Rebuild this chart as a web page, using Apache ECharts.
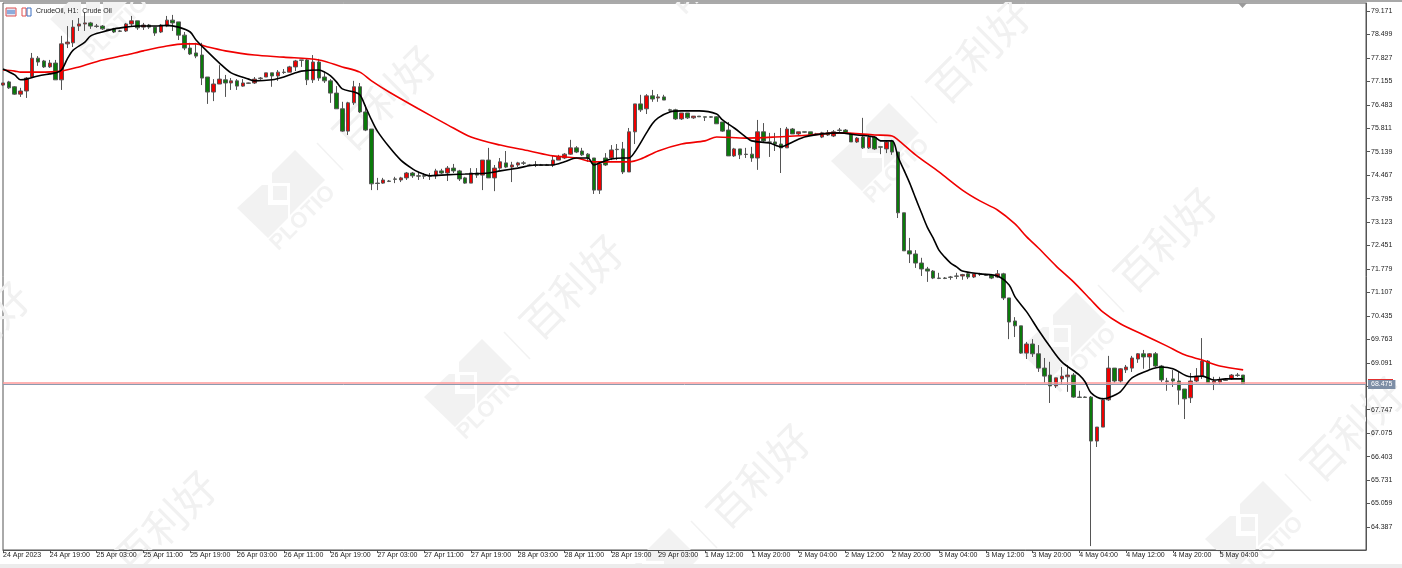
<!DOCTYPE html>
<html><head><meta charset="utf-8">
<style>html,body{margin:0;padding:0;background:#fff}#c{width:1402px;height:568px}</style>
<script src="https://cdn.jsdelivr.net/npm/echarts@6/dist/echarts.min.js"></script>
</head><body><div id="c"></div>
<script>
const tickLabels=["24 Apr 2023","24 Apr 19:00","25 Apr 03:00","25 Apr 11:00","25 Apr 19:00","26 Apr 03:00","26 Apr 11:00","26 Apr 19:00","27 Apr 03:00","27 Apr 11:00","27 Apr 19:00","28 Apr 03:00","28 Apr 11:00","28 Apr 19:00","29 Apr 03:00","1 May 12:00","1 May 20:00","2 May 04:00","2 May 12:00","2 May 20:00","3 May 04:00","3 May 12:00","3 May 20:00","4 May 04:00","4 May 12:00","4 May 20:00","5 May 04:00"];
const priceTicks=[79.171,78.499,77.827,77.155,76.483,75.811,75.139,74.467,73.795,73.123,72.451,71.779,71.107,70.435,69.763,69.091,68.419,67.747,67.075,66.403,65.731,65.059,64.387];
// [open, close, low, high]
const candles=[[77.05,77.11,77.02,77.11],[77.14,76.97,76.94,77.17],[77.00,76.79,76.77,77.02],[76.79,76.88,76.71,76.97],[76.88,77.25,76.68,77.28],[77.28,77.82,77.25,77.97],[77.82,77.71,77.60,77.88],[77.74,77.57,77.54,77.77],[77.57,77.68,77.54,77.77],[77.68,77.20,77.20,77.77],
[77.20,78.23,76.91,78.46],[78.23,78.28,78.11,78.74],[78.26,78.71,78.14,78.91],[78.74,78.80,78.60,78.97],[78.80,78.83,78.60,79.14],[78.83,78.74,78.66,78.86],[78.74,78.73,78.69,78.80],[78.74,78.66,78.63,78.77],[78.65,78.64,78.63,78.66],[78.66,78.57,78.54,78.69],
[78.60,78.59,78.57,78.63],[78.60,78.80,78.57,78.83],[78.80,78.89,78.74,79.03],[78.89,78.69,78.63,78.89],[78.71,78.77,78.63,78.83],[78.77,78.71,78.66,78.80],[78.71,78.54,78.46,78.71],[78.57,78.77,78.54,78.80],[78.74,78.91,78.71,79.03],[78.91,78.83,78.60,79.06],
[78.86,78.48,78.34,78.86],[78.48,78.11,78.05,78.57],[78.11,77.94,77.91,78.26],[77.97,77.88,77.82,78.26],[77.91,77.25,77.05,78.26],[77.28,76.85,76.51,77.28],[76.85,77.08,76.59,77.22],[77.08,77.22,77.08,77.62],[77.20,77.11,76.71,77.34],[77.11,77.17,76.91,77.25],
[77.17,77.02,76.91,77.22],[77.02,77.11,77.00,77.22],[77.11,77.10,77.08,77.12],[77.11,77.22,77.08,77.28],[77.25,77.24,77.20,77.28],[77.28,77.40,77.28,77.40],[77.40,77.31,77.00,77.40],[77.31,77.42,77.17,77.48],[77.42,77.41,77.37,77.51],[77.42,77.57,77.42,77.60],
[77.57,77.74,77.45,77.77],[77.77,77.76,77.57,77.77],[77.77,77.20,77.05,77.80],[77.20,77.71,77.11,77.91],[77.71,77.25,77.17,77.80],[77.28,77.17,77.11,77.42],[77.17,76.82,76.54,77.22],[76.82,76.37,76.37,77.02],[76.37,75.73,75.71,76.57],[75.73,76.54,75.62,76.57],
[76.54,77.00,76.48,77.17],[77.00,76.28,76.25,77.11],[76.28,75.76,75.73,76.48],[75.79,74.22,74.04,75.79],[74.24,74.23,74.04,74.39],[74.24,74.33,74.22,74.39],[74.30,74.29,74.27,74.33],[74.36,74.35,74.24,74.42],[74.33,74.39,74.27,74.42],[74.39,74.53,74.33,74.56],
[74.53,74.45,74.39,74.56],[74.45,74.44,74.33,74.56],[74.45,74.44,74.36,74.53],[74.45,74.44,74.33,74.53],[74.45,74.59,74.36,74.65],[74.59,74.53,74.50,74.65],[74.53,74.67,74.30,74.73],[74.67,74.59,74.53,74.79],[74.59,74.36,74.30,74.62],[74.39,74.24,74.22,74.42],
[74.24,74.53,74.24,74.67],[74.53,74.47,74.39,74.67],[74.47,74.90,74.04,74.90],[74.90,74.39,74.39,75.25],[74.39,74.67,74.01,74.76],[74.67,74.85,74.62,74.96],[74.82,74.70,74.67,75.16],[74.70,74.76,74.27,74.85],[74.76,74.82,74.70,74.85],[74.82,74.81,74.76,74.87],
[74.76,74.75,74.73,74.79],[74.76,74.75,74.70,74.87],[74.76,74.75,74.73,74.79],[74.76,74.75,74.73,74.79],[74.76,74.90,74.70,75.02],[74.90,74.99,74.90,75.05],[74.96,75.07,74.93,75.10],[75.07,75.25,75.05,75.48],[75.25,75.13,75.10,75.30],[75.16,75.05,75.02,75.25],
[75.07,74.96,74.85,75.10],[74.96,74.04,73.93,74.96],[74.04,74.79,73.93,74.82],[74.96,74.76,74.73,75.10],[74.96,75.19,74.90,75.33],[75.21,75.20,74.90,75.36],[75.22,74.56,74.50,75.42],[74.56,75.71,74.56,75.82],[75.71,76.51,75.36,76.51],[76.51,76.34,76.28,76.77],
[76.37,76.74,76.22,76.79],[76.74,76.65,76.57,76.91],[76.68,76.71,76.57,76.79],[76.71,76.62,76.62,76.77],[76.34,76.33,76.28,76.37],[76.34,76.08,76.05,76.37],[76.08,76.25,76.05,76.25],[76.25,76.11,76.08,76.25],[76.11,76.16,76.08,76.16],[76.16,76.14,76.14,76.16],
[76.14,76.13,76.02,76.14],[76.14,76.13,76.11,76.16],[76.14,75.94,75.94,76.16],[75.99,75.73,75.71,75.99],[75.76,75.02,75.02,75.99],[75.02,75.22,74.99,75.25],[75.22,75.05,74.93,75.22],[75.07,75.06,74.96,75.25],[75.07,74.96,74.85,75.28],[74.96,75.71,74.62,76.05],
[75.71,75.45,75.42,75.96],[75.42,75.41,74.99,75.68],[75.42,75.36,75.16,75.68],[75.36,75.25,74.53,75.82],[75.25,75.79,75.25,75.85],[75.79,75.65,75.65,75.82],[75.65,75.71,75.62,75.71],[75.71,75.70,75.68,75.71],[75.71,75.62,75.62,75.71],[75.65,75.64,75.62,75.68],
[75.56,75.68,75.53,75.71],[75.68,75.62,75.59,75.76],[75.59,75.71,75.56,75.76],[75.76,75.75,75.71,75.82],[75.76,75.68,75.65,75.79],[75.65,75.42,75.42,75.68],[75.42,75.53,75.39,75.56],[75.56,75.25,75.22,76.11],[75.25,75.56,75.22,75.62],[75.56,75.22,75.19,75.59],
[75.28,75.27,75.07,75.28],[75.22,75.42,75.10,75.45],[75.45,75.13,75.05,75.48],[75.13,73.39,73.24,75.13],[73.39,72.30,72.30,73.39],[72.30,72.21,71.95,72.67],[72.21,71.95,71.81,72.32],[71.95,71.78,71.58,72.10],[71.78,71.72,71.41,71.84],[71.72,71.52,71.49,71.75],
[71.52,71.51,71.49,71.67],[71.52,71.51,71.49,71.55],[71.55,71.54,71.47,71.58],[71.58,71.57,71.49,71.67],[71.58,71.62,71.47,71.64],[71.64,71.55,71.49,71.67],[71.55,71.64,71.52,71.64],[71.64,71.63,71.58,71.67],[71.61,71.60,71.58,71.64],[71.61,71.52,71.49,71.64],
[71.55,71.64,71.52,71.75],[71.64,70.95,70.89,71.67],[70.95,70.26,69.77,70.95],[70.29,70.15,69.83,70.40],[70.15,69.37,69.35,70.15],[69.37,69.63,69.20,69.69],[69.63,69.35,69.26,69.77],[69.35,68.94,68.83,69.60],[68.94,68.71,68.52,69.23],[68.74,68.43,67.94,69.12],
[68.43,68.66,68.37,68.66],[68.63,68.71,68.46,68.97],[68.69,68.74,68.26,69.03],[68.74,68.11,68.09,68.80],[68.11,68.10,68.09,68.29],[68.11,68.10,68.09,68.13],[68.11,66.85,63.84,68.14],[66.85,67.25,66.68,67.25],[67.25,68.03,67.25,68.09],[68.03,68.94,68.00,69.29],
[68.94,68.57,68.52,68.94],[68.57,68.92,68.52,68.94],[68.89,68.97,68.80,69.03],[68.94,69.23,68.83,69.29],[69.20,69.35,69.09,69.37],[69.35,69.26,68.92,69.46],[69.26,69.35,68.92,69.37],[69.35,69.00,68.97,69.40],[69.00,68.60,68.54,69.03],[68.57,68.56,68.29,68.66],
[68.63,68.57,68.40,68.89],[68.57,68.31,67.89,68.83],[68.34,68.06,67.48,68.34],[68.09,68.57,67.94,68.80],[68.57,68.71,68.54,68.94],[68.71,69.14,68.63,69.80],[69.14,68.52,68.52,69.17],[68.52,68.57,68.31,68.69],[68.54,68.60,68.49,68.69],[68.60,68.59,68.57,68.63],
[68.63,68.74,68.60,68.77],[68.74,68.73,68.69,68.80],[68.74,68.49,68.46,68.74]];
// [bar index, price] readings along each moving average
const fastMA=[[0,77.51],[2,77.34],[3,77.20],[4,77.22],[6,77.31],[8,77.37],[9,77.40],[10,77.48],[11,77.80],[12,78.05],[14,78.28],[15,78.46],[17,78.57],[19,78.66],[21,78.71],[23,78.74],[26,78.74],[28,78.76],[30,78.71],[32,78.57],[33,78.34],[35,78.00],[37,77.68],[39,77.40],[42,77.22],[43,77.17],[46,77.20],[48,77.28],[50,77.40],[51,77.45],[54,77.48],[55,77.42],[56,77.31],[57,77.14],[58,76.94],[60,76.85],[61,76.77],[62,76.42],[63,76.05],[64,75.73],[66,75.28],[68,74.90],[70,74.65],[71,74.56],[73,74.45],[75,74.47],[79,74.50],[83,74.53],[85,74.59],[88,74.67],[91,74.76],[94,74.76],[96,74.85],[98,74.96],[100,74.96],[101,74.76],[102,74.82],[104,74.93],[106,74.96],[107,74.96],[108,75.13],[110,75.68],[111,75.94],[112,76.11],[114,76.28],[116,76.31],[119,76.31],[122,76.22],[123,76.05],[125,75.82],[127,75.56],[128,75.45],[131,75.39],[133,75.28],[135,75.42],[137,75.56],[140,75.65],[143,75.68],[146,75.62],[149,75.56],[150,75.45],[152,75.45],[153,74.99],[154,74.62],[155,74.24],[156,73.81],[157,73.39],[158,72.98],[159,72.67],[160,72.32],[161,72.12],[162,71.95],[163,71.84],[164,71.72],[167,71.64],[170,71.58],[172,71.32],[173,70.98],[175,70.55],[177,70.03],[179,69.55],[181,69.12],[184,68.74],[185,68.54],[186,68.23],[188,68.06],[189,68.09],[191,68.26],[193,68.66],[196,68.89],[198,68.97],[200,68.92],[203,68.69],[205,68.71],[207,68.60],[209,68.63],[212,68.63]];
const slowMA=[[0,77.48],[2,77.45],[3,77.42],[6,77.42],[10,77.45],[13,77.57],[17,77.77],[21,77.91],[24,78.03],[28,78.17],[31,78.23],[33,78.23],[35,78.14],[38,78.03],[43,77.91],[48,77.85],[54,77.77],[58,77.57],[61,77.42],[63,77.17],[66,76.85],[71,76.37],[76,75.91],[80,75.56],[85,75.33],[90,75.16],[94,75.02],[98,74.96],[101,74.85],[104,74.85],[107,74.85],[109,74.93],[112,75.16],[116,75.36],[120,75.45],[122,75.56],[127,75.53],[132,75.56],[138,75.62],[143,75.68],[149,75.62],[152,75.59],[153,75.48],[156,75.05],[160,74.56],[164,74.04],[167,73.73],[170,73.47],[173,73.07],[175,72.70],[177,72.38],[180,71.87],[183,71.41],[186,70.89],[188,70.55],[191,70.21],[195,69.89],[199,69.57],[202,69.32],[205,69.17],[208,69.00],[212,68.89]];
const bidPrice=68.475, askPrice=68.51;
const categories=[];
for(let i=0;i<234;i++){categories.push(i%8===0&&i/8<tickLabels.length?tickLabels[i/8]:'');}
const showTick=(i)=>i%8===0&&i/8<tickLabels.length;

// faint repeated watermark
const marks=[[93,4],[280,193],[467,382],[654,571],[-127,429],[60,618],[687,-43],[874,146],[1061,335],[1248,524]];
const wmC='#f2f2f2';
const graphic=[];
marks.forEach(([x,y])=>{
 graphic.push({type:'group',x:x,y:y,z:-5,silent:true,children:[
  {type:'polygon',shape:{points:[[-8,-20],[15,-43],[45,-13],[10,22],[10,-10],[-8,-10]]},style:{fill:wmC}},
  {type:'polygon',shape:{points:[[-43,15],[-18,-8],[-12,-8],[-12,12],[8,12],[8,25],[-12,45]]},style:{fill:wmC}},
  {type:'rect',shape:{x:-7,y:-7,width:14,height:14},style:{fill:wmC}},
  {type:'line',shape:{x1:37,y1:-50,x2:63,y2:-23},style:{stroke:wmC,lineWidth:1.5}},
  {type:'text',x:23,y:25,rotation:Math.PI/4,style:{text:'PLOTIO',fill:wmC,font:'bold 22px "Liberation Sans"',align:'center',verticalAlign:'middle'}},
  {type:'text',x:105,y:-95,rotation:Math.PI/4,style:{text:'百利好',fill:'#f1f1f1',font:'42px "Noto Sans CJK SC"',align:'center',verticalAlign:'middle'}}
 ]});
});
// terminal chrome
graphic.push(
 {type:'rect',shape:{x:0,y:0,width:1402,height:2},style:{fill:'#a8a8a8'},z:20,silent:true},
 {type:'rect',shape:{x:0,y:564,width:1402,height:4},style:{fill:'#ececec'},z:20,silent:true},
 {type:'rect',shape:{x:6,y:8,width:10,height:8},style:{fill:'#dfe8f6',stroke:'#e05050',lineWidth:1},z:20},
 {type:'line',shape:{x1:7,y1:11,x2:15,y2:11},style:{stroke:'#3a6fc0',lineWidth:1},z:21},
 {type:'line',shape:{x1:7,y1:13,x2:15,y2:13},style:{stroke:'#3a6fc0',lineWidth:1},z:21},
 {type:'rect',shape:{x:22,y:8,width:4,height:8},style:{fill:'#fff',stroke:'#e05050',lineWidth:1},z:20},
 {type:'rect',shape:{x:27,y:8,width:4,height:8},style:{fill:'#fff',stroke:'#3a6fc0',lineWidth:1},z:20},
 {type:'text',x:36,y:11,z:20,style:{text:'CrudeOil, H1:  Crude Oil',fill:'#222',font:'7px "Liberation Sans"',verticalAlign:'middle'}},
 {type:'polygon',shape:{points:[[1238,3],[1247,3],[1242.5,8]]},style:{fill:'#9a9a9a'},z:20},
 {type:'rect',shape:{x:1368,y:379,width:25,height:1},style:{fill:'#e03030'},z:20}
);

const chart=echarts.init(document.getElementById('c'),null,{renderer:'canvas'});
chart.setOption({
 animation:false,backgroundColor:'#fff',graphic:graphic,
 grid:{left:2.5,right:36,top:3,bottom:18,show:true,backgroundColor:'transparent',borderColor:'#555',borderWidth:1},
 xAxis:{type:'category',data:categories,boundaryGap:false,
  axisLine:{lineStyle:{color:'#555',width:1}},
  axisTick:{interval:showTick,length:3,lineStyle:{color:'#555'}},
  axisLabel:{interval:showTick,align:'left',margin:2,fontSize:7,color:'#222',fontFamily:'Liberation Sans',hideOverlap:false},
  splitLine:{show:false}},
 yAxis:{type:'value',position:'right',min:63.728,max:79.401,scale:true,
  axisLine:{show:true,lineStyle:{color:'#555',width:1}},
  axisTick:{show:true,length:4,lineStyle:{color:'#555'},customValues:priceTicks},
  axisLabel:{color:'#222',fontSize:7,fontFamily:'Liberation Sans',margin:5,customValues:priceTicks,formatter:(v)=>v.toFixed(3)},
  splitLine:{show:false}},
 series:[
  {name:'CrudeOil',type:'candlestick',data:candles,barWidth:4,z:3,
   itemStyle:{color:'#ee0000',color0:'#0a7a0a',borderColor:'#555',borderColor0:'#555',borderWidth:1},
   markLine:{silent:true,symbol:'none',animation:false,data:[
    {yAxis:askPrice,lineStyle:{color:'#ff9a9a',width:1.5,type:'solid'},label:{show:false}},
    {yAxis:bidPrice,lineStyle:{color:'#8c9ab0',width:1,type:'solid'},
     label:{show:true,position:'end',distance:2,formatter:'68.475',color:'#fff',fontSize:7,fontFamily:'Liberation Sans',backgroundColor:'#7d8ea6',padding:[1,3,1,3]}}
   ]}},
  {name:'MA fast',type:'line',data:fastMA,smooth:0.3,showSymbol:false,symbol:'none',z:5,lineStyle:{color:'#000',width:1.6}},
  {name:'MA slow',type:'line',data:slowMA,smooth:0.3,showSymbol:false,symbol:'none',z:4,lineStyle:{color:'#f00000',width:1.6}}
 ]
});
</script></body></html>
